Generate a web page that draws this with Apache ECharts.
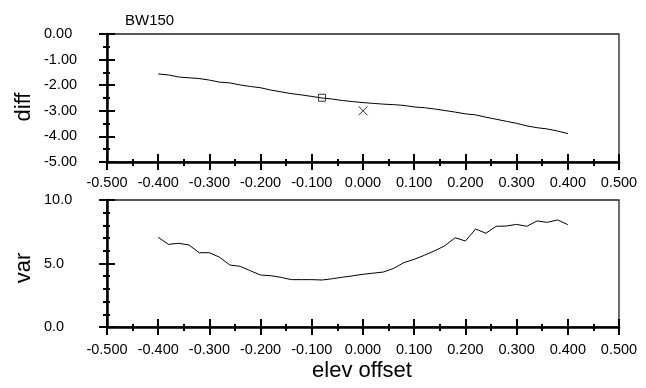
<!DOCTYPE html>
<html>
<head>
<meta charset="utf-8">
<script src="https://cdn.jsdelivr.net/npm/echarts@6/dist/echarts.min.js"></script>
<style>
html,body{margin:0;padding:0;background:#fff;}
#chart{width:646px;height:388px;}
</style>
</head>
<body>
<div id="chart"></div>
<script>
// ---- data ----
var elevOffset = [-0.40,-0.38,-0.36,-0.34,-0.32,-0.30,-0.28,-0.26,-0.24,-0.22,-0.20,-0.18,-0.16,-0.14,-0.12,-0.10,-0.08,-0.06,-0.04,-0.02,0.00,0.02,0.04,0.06,0.08,0.10,0.12,0.14,0.16,0.18,0.20,0.22,0.24,0.26,0.28,0.30,0.32,0.34,0.36,0.38,0.40];
var diffValues = [-1.56,-1.60,-1.68,-1.71,-1.74,-1.80,-1.88,-1.91,-1.99,-2.05,-2.10,-2.19,-2.26,-2.33,-2.38,-2.44,-2.50,-2.54,-2.60,-2.64,-2.68,-2.71,-2.74,-2.76,-2.79,-2.85,-2.88,-2.93,-2.99,-3.05,-3.12,-3.16,-3.25,-3.33,-3.41,-3.49,-3.59,-3.66,-3.71,-3.79,-3.89];
var varValues = [7.06,6.51,6.59,6.46,5.85,5.85,5.49,4.88,4.78,4.43,4.09,4.04,3.91,3.73,3.73,3.73,3.70,3.80,3.92,4.03,4.15,4.24,4.33,4.62,5.07,5.33,5.65,6.00,6.40,7.03,6.77,7.72,7.38,7.93,7.95,8.08,7.93,8.35,8.24,8.43,8.06];
var squarePoint = [-0.08, -2.49];
var crossPoint = [0.00, -3.00];
var xTickLabels = ['-0.500','-0.400','-0.300','-0.200','-0.100','0.000','0.100','0.200','0.300','0.400','0.500'];
var diffTickLabels = ['-5.00','-4.00','-3.00','-2.00','-1.00','0.00'];
var varTickLabels = ['0.0','5.0','10.0'];
var chartTitle = 'BW150';
var diffName = 'diff';
var varName = 'var';
var xName = 'elev offset';

function pairs(xs, ys){ return xs.map(function(x,i){ return [x, ys[i]]; }); }
function pick(labels, min, step){ return function(v){ var i = Math.round((v - min)/step); return labels[i] !== undefined ? labels[i] : ''; }; }

var FONT = '"Liberation Sans", Arial, sans-serif';
var C = '#000';

function xAxisPair(grid, margin){
  var base = {
    type:'value', gridIndex:grid, position:'bottom', offset:0, min:-0.5, max:0.5, interval:0.1,
    splitLine:{show:false}
  };
  return [
    Object.assign({}, base, {
      axisLine:{show:true, onZero:false, lineStyle:{color:C, width:2.5}},
      axisTick:{show:true, inside:false, length:8, lineStyle:{color:C, width:2}},
      minorTick:{show:true, splitNumber:2, length:4, lineStyle:{color:C, width:2}},
      axisLabel:{show:true, margin:margin, color:C, fontSize:14.5, fontFamily:FONT, formatter:pick(xTickLabels,-0.5,0.1)}
    }),
    Object.assign({}, base, {
      axisLine:{show:false, onZero:false},
      axisTick:{show:true, inside:true, length:8, lineStyle:{color:C, width:2}},
      minorTick:{show:true, splitNumber:2, length:3, lineStyle:{color:C, width:2}},
      axisLabel:{show:false}
    })
  ];
}
function yAxisPair(grid, min, max, interval, minorSplit, labels){
  var base = {type:'value', gridIndex:grid, position:'left', offset:0, min:min, max:max, interval:interval, splitLine:{show:false}};
  return [
    Object.assign({}, base, {
      axisLine:{show:true, onZero:false, lineStyle:{color:C, width:2.5}},
      axisTick:{show:true, inside:false, length:8, lineStyle:{color:C, width:2}},
      minorTick:{show:true, splitNumber:minorSplit, length:4, lineStyle:{color:C, width:2}},
      axisLabel:{show:true, margin:63, align:'left', color:C, fontSize:14.5, fontFamily:FONT, formatter:pick(labels,min,interval)}
    }),
    Object.assign({}, base, {
      axisLine:{show:false, onZero:false},
      axisTick:{show:true, inside:true, length:8, lineStyle:{color:C, width:2}},
      minorTick:{show:true, splitNumber:minorSplit, length:3, lineStyle:{color:C, width:2}},
      axisLabel:{show:false}
    })
  ];
}

var chart = echarts.init(document.getElementById('chart'), null, {renderer:'canvas'});
chart.setOption({
  animation:false,
  backgroundColor:'#fff',
  title:{text:chartTitle, left:120, top:8, textStyle:{fontSize:15, fontWeight:'normal', color:C, fontFamily:FONT}},
  grid:[
    {left:107, top:34, width:512, height:128, show:true, borderColor:'#222', borderWidth:1.3},
    {left:107, top:200, width:512, height:127, show:true, borderColor:'#222', borderWidth:1.3}
  ],
  xAxis: xAxisPair(0, 13).concat(xAxisPair(1, 15)),
  yAxis: yAxisPair(0, -5, 0, 1, 2, diffTickLabels).concat(yAxisPair(1, 0, 10, 5, 5, varTickLabels)),
  graphic:[
    {type:'text', rotation:Math.PI/2, x:24, y:107, style:{text:diffName, font:'22px '+FONT, fill:C, align:'center', verticalAlign:'middle'}},
    {type:'text', rotation:Math.PI/2, x:24, y:268, style:{text:varName, font:'22px '+FONT, fill:C, align:'center', verticalAlign:'middle'}},
    {type:'text', x:362, y:371, style:{text:xName, font:'22px '+FONT, fill:C, align:'center', verticalAlign:'middle'}}
  ],
  series:[
    {type:'line', xAxisIndex:0, yAxisIndex:0, data:pairs(elevOffset, diffValues), showSymbol:false, symbol:'none', lineStyle:{color:C, width:1}},
    {type:'scatter', xAxisIndex:0, yAxisIndex:0, data:[squarePoint], symbol:'rect', symbolSize:7, itemStyle:{color:'rgba(0,0,0,0)', borderColor:C, borderWidth:1}, z:5},
    {type:'scatter', xAxisIndex:0, yAxisIndex:0, data:[crossPoint], symbol:'path://M0,0L10,10M10,0L0,10', symbolSize:9, itemStyle:{color:'rgba(0,0,0,0)', borderColor:C, borderWidth:1}, z:5},
    {type:'line', xAxisIndex:2, yAxisIndex:2, data:pairs(elevOffset, varValues), showSymbol:false, symbol:'none', lineStyle:{color:C, width:1}}
  ]
});
</script>
</body>
</html>
